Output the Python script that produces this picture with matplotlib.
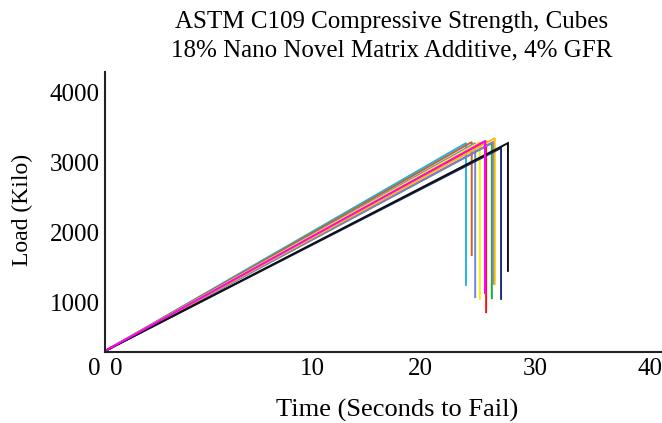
import matplotlib
matplotlib.use("Agg")
import matplotlib.pyplot as plt
import numpy as np

plt.rcParams['font.family'] = ['Liberation Serif', 'DejaVu Serif']

# Data
colors = ['#1EB4E8', '#C8641E', '#6E86E0', '#F5F000', '#FF1010', '#10B040',
          '#9370DB', '#F0C000', '#1C2A70', '#101010', '#FF00FF']
start_time = -7.4
start_load = 300
fail_time = [24.0, 24.5, 24.8, 25.2, 25.75, 26.25, 26.4, 26.5, 27.05, 27.65, 25.65]
peak_load = [3270, 3285, 3270, 3285, 3300, 3270, 3290, 3340, 3200, 3270, 3300]
drop_load = [1245, 1670, 1070, 1045, 855, 1055, 1260, 1255, 1045, 1445, 1130]

xtick_pos = [-6.43, 10.6, 20, 30, 40]
xtick_labels = ['0', '10', '20', '30', '40']
ytick_vals = [1000, 2000, 3000, 4000]

FS = 18

fig = plt.figure(figsize=(6.62, 4.23), dpi=100)
ax = fig.add_axes([105/662, 1-352/423, 1-105/662, (352-72)/423])

for c, ft, pk, dr in zip(colors, fail_time, peak_load, drop_load):
    ax.plot([start_time, ft, ft], [start_load, pk, dr], color=c, lw=1.4,
            linestyle='-', solid_joinstyle='miter')

ax.set_xlim(-7.4, 41.05)
ax.set_ylim(286, 4286)
ax.set_xticks(xtick_pos)
ax.set_xticklabels(xtick_labels)
ax.set_yticks(ytick_vals)
ax.tick_params(length=0, labelsize=FS, pad=4)
ax.tick_params(axis='y', pad=4)
for s in ['top', 'right']:
    ax.spines[s].set_visible(False)
for s in ['left', 'bottom']:
    ax.spines[s].set_linewidth(1.5)
    ax.spines[s].set_color('#222222')

tr, va, ha = ax.get_xaxis_text1_transform(4)
ax.text(-8.35, 0, '0', transform=tr, ha=ha, va=va, fontsize=FS, clip_on=False)

fig.text(397/662, 1-410/423, 'Time (Seconds to Fail)', ha='center', va='center', fontsize=19)
fig.text(22/662, 1-210/423, 'Load (Kilo)', ha='center', va='center', rotation=90, fontsize=17)
fig.text(392/662, 1-22/423, 'ASTM C109 Compressive Strength, Cubes', ha='center', va='center', fontsize=FS)
fig.text(392/662, 1-50/423, '18% Nano Novel Matrix Additive, 4% GFR', ha='center', va='center', fontsize=FS)

fig.savefig('out.png', dpi=100)
